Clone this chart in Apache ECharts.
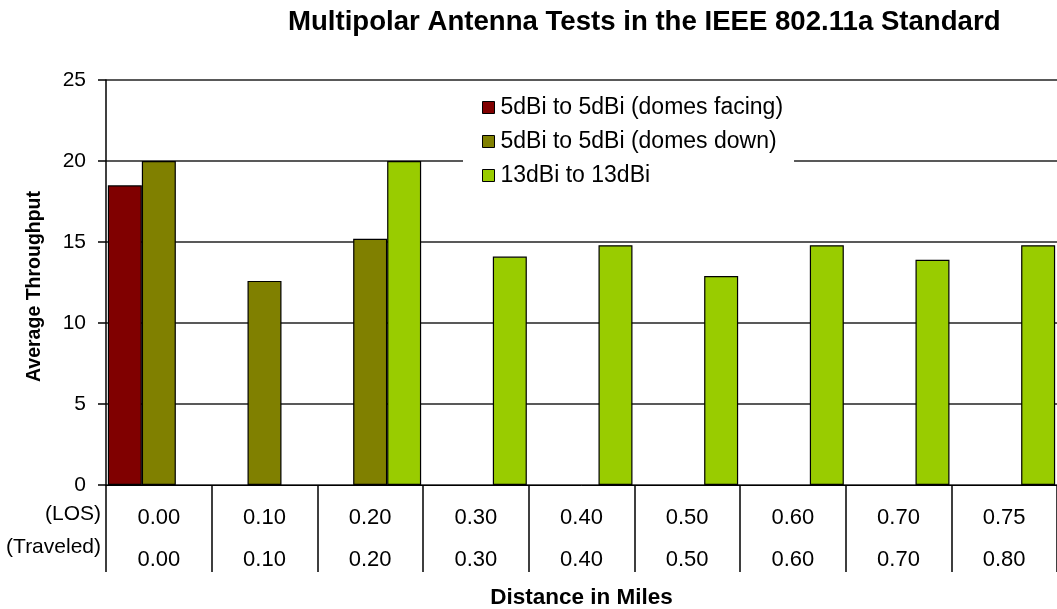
<!DOCTYPE html>
<html>
<head>
<meta charset="utf-8">
<script src="https://cdn.jsdelivr.net/npm/echarts@6/dist/echarts.min.js"></script>
<style>html,body{margin:0;padding:0;background:#fff;}#c{width:1057px;height:609px;}</style>
</head>
<body>
<div id="c"></div>
<script>
var losLabels = ['0.00','0.10','0.20','0.30','0.40','0.50','0.60','0.70','0.75'];
var traveledLabels = ['0.00','0.10','0.20','0.30','0.40','0.50','0.60','0.70','0.80'];
var seriesNames = ['5dBi to 5dBi (domes facing)','5dBi to 5dBi (domes down)','13dBi to 13dBi'];
var domesFacing = [18.5, null, null, null, null, null, null, null, null];
var domesDown = [20.0, 12.6, 15.2, null, null, null, null, null, null];
var thirteen = [null, null, 20.0, 14.1, 14.8, 12.9, 14.8, 13.9, 14.8];
var yTicks = [0, 5, 10, 15, 20, 25];

var FONT = '"Liberation Sans", Arial, sans-serif';
var chart = echarts.init(document.getElementById('c'), null, {renderer: 'canvas'});
function barSeries(name, data, color) {
  return {
    name: name, type: 'bar', data: data,
    barGap: '0%', barCategoryGap: '3.5%',
    itemStyle: {color: color, borderColor: '#000', borderWidth: 1.2}
  };
}
chart.setOption({
  backgroundColor: '#fff',
  animation: false,
  textStyle: {fontFamily: FONT},
  title: {
    text: 'Multipolar Antenna Tests in the IEEE 802.11a Standard',
    left: 283, top: 3,
    textStyle: {fontFamily: FONT, fontWeight: 'bold', fontSize: 27.6, color: '#000'}
  },
  legend: {
    left: 463, top: 88, orient: 'vertical',
    itemWidth: 12, itemHeight: 12, itemGap: 11,
    backgroundColor: '#fff',
    padding: [8, 11, 8, 19],
    icon: 'rect',
    itemStyle: {borderColor: '#000', borderWidth: 1},
    textStyle: {fontFamily: FONT, fontSize: 23, color: '#000', padding: [0,0,0,1]},
    data: seriesNames
  },
  grid: {left: 106, right: 0, top: 80, bottom: 124, containLabel: false, outerBoundsMode: 'none'},
  xAxis: {
    type: 'category',
    data: losLabels,
    axisLine: {lineStyle: {color: '#000', width: 1}},
    axisTick: {show: true, length: 87, interval: 0, lineStyle: {color: '#000', width: 1.5}},
    axisLabel: {
      interval: 0, margin: 12, lineHeight: 42, fontSize: 22, color: '#000', fontFamily: FONT,
      formatter: function (v, i) { return losLabels[i] + '\n' + traveledLabels[i]; }
    },
    name: 'Distance in Miles', nameLocation: 'middle', nameGap: 92,
    nameTextStyle: {fontFamily: FONT, fontWeight: 'bold', fontSize: 22.5, color: '#000'}
  },
  yAxis: {
    type: 'value', min: yTicks[0], max: yTicks[yTicks.length - 1], interval: 5,
    axisLine: {show: true, lineStyle: {color: '#000', width: 1.5}},
    axisTick: {show: true, length: 8, lineStyle: {color: '#000', width: 1.5}},
    axisLabel: {margin: 20, fontSize: 21, color: '#000', fontFamily: FONT},
    splitLine: {show: true, lineStyle: {color: '#222', width: 1.5}},
    name: 'Average Throughput', nameLocation: 'middle', nameRotate: 90, nameGap: 61,
    nameTextStyle: {fontFamily: FONT, fontWeight: 'bold', fontSize: 19.5, color: '#000', padding: [0, 8, 0, 0]}
  },
  graphic: [
    {type: 'text', right: 1057 - 101, top: 504, style: {text: '(LOS)', font: '21px ' + FONT, fill: '#000', textAlign: 'right'}},
    {type: 'text', right: 1057 - 101, top: 537, style: {text: '(Traveled)', font: '21px ' + FONT, fill: '#000', textAlign: 'right'}}
  ],
  series: [
    barSeries(seriesNames[0], domesFacing, '#800000'),
    barSeries(seriesNames[1], domesDown, '#808000'),
    barSeries(seriesNames[2], thirteen, '#99CC00')
  ]
});
</script>
</body>
</html>
